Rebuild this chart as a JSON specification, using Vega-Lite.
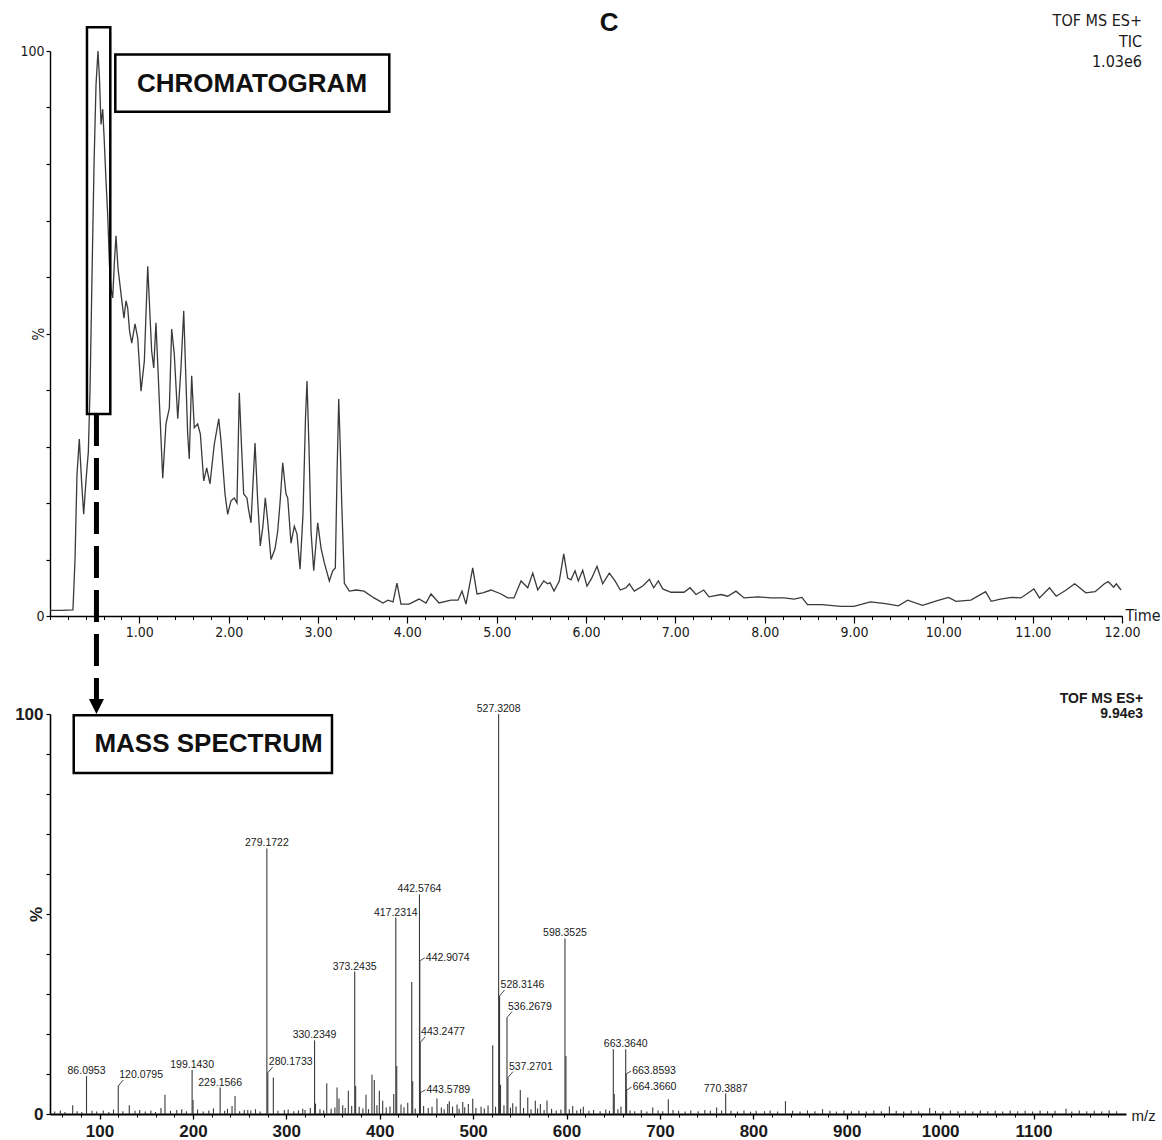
{
  "$schema": "https://vega.github.io/schema/vega-lite/v6.json",
  "background": "white",
  "padding": {"left": 14, "top": 9, "right": 4, "bottom": 2},
  "spacing": 98,
  "bounds": "flush",
  "config": {
    "view": {"stroke": null},
    "axis": {"grid": false, "domainColor": "#000", "tickColor": "#000", "labelColor": "#1a1a1a", "titleColor": "#1a1a1a", "labelFlush": false, "labelOverlap": false},
    "text": {"font": "Liberation Sans"}
  },
  "datasets": {
    "tic": [
      {"t": 0.000, "pct": 1.0}, {"t": 0.123, "pct": 1.0}, {"t": 0.257, "pct": 1.1}, {"t": 0.280, "pct": 10}, {"t": 0.302, "pct": 25},
      {"t": 0.328, "pct": 31.3}, {"t": 0.353, "pct": 24}, {"t": 0.377, "pct": 18}, {"t": 0.403, "pct": 24}, {"t": 0.429, "pct": 29},
      {"t": 0.448, "pct": 40}, {"t": 0.470, "pct": 60}, {"t": 0.493, "pct": 80}, {"t": 0.515, "pct": 94}, {"t": 0.537, "pct": 100},
      {"t": 0.554, "pct": 95}, {"t": 0.571, "pct": 87}, {"t": 0.590, "pct": 89.7}, {"t": 0.605, "pct": 85}, {"t": 0.627, "pct": 77},
      {"t": 0.646, "pct": 71}, {"t": 0.666, "pct": 62}, {"t": 0.683, "pct": 58}, {"t": 0.702, "pct": 56.3}, {"t": 0.722, "pct": 63},
      {"t": 0.739, "pct": 67.3}, {"t": 0.761, "pct": 61.6}, {"t": 0.795, "pct": 57}, {"t": 0.828, "pct": 52.7}, {"t": 0.851, "pct": 55.8},
      {"t": 0.870, "pct": 54.5}, {"t": 0.890, "pct": 50.5}, {"t": 0.915, "pct": 48.3}, {"t": 0.952, "pct": 51.7}, {"t": 0.982, "pct": 49.2},
      {"t": 1.019, "pct": 39.8}, {"t": 1.056, "pct": 45.1}, {"t": 1.078, "pct": 55}, {"t": 1.094, "pct": 61.9}, {"t": 1.114, "pct": 55},
      {"t": 1.138, "pct": 46.9}, {"t": 1.161, "pct": 43.9}, {"t": 1.186, "pct": 51.9}, {"t": 1.224, "pct": 38}, {"t": 1.262, "pct": 24.4},
      {"t": 1.298, "pct": 34}, {"t": 1.336, "pct": 36.8}, {"t": 1.362, "pct": 50.8}, {"t": 1.391, "pct": 46.4}, {"t": 1.430, "pct": 34.9},
      {"t": 1.466, "pct": 43.9}, {"t": 1.497, "pct": 54}, {"t": 1.517, "pct": 44}, {"t": 1.541, "pct": 32.2}, {"t": 1.559, "pct": 27.8},
      {"t": 1.586, "pct": 42.5}, {"t": 1.615, "pct": 33.3}, {"t": 1.653, "pct": 34}, {"t": 1.683, "pct": 32.2}, {"t": 1.721, "pct": 23.9},
      {"t": 1.754, "pct": 26.2}, {"t": 1.791, "pct": 23.4}, {"t": 1.839, "pct": 30.4}, {"t": 1.889, "pct": 34.9}, {"t": 1.914, "pct": 31},
      {"t": 1.959, "pct": 21.6}, {"t": 1.989, "pct": 18}, {"t": 2.026, "pct": 20.4}, {"t": 2.063, "pct": 20.9}, {"t": 2.093, "pct": 20},
      {"t": 2.119, "pct": 39.5}, {"t": 2.144, "pct": 30}, {"t": 2.168, "pct": 21.6}, {"t": 2.205, "pct": 20.9}, {"t": 2.220, "pct": 19.1},
      {"t": 2.250, "pct": 16.5}, {"t": 2.295, "pct": 30.6}, {"t": 2.325, "pct": 20.4}, {"t": 2.354, "pct": 12.4}, {"t": 2.384, "pct": 16},
      {"t": 2.410, "pct": 20.9}, {"t": 2.437, "pct": 16.8}, {"t": 2.474, "pct": 10}, {"t": 2.519, "pct": 11.9}, {"t": 2.549, "pct": 15},
      {"t": 2.575, "pct": 20}, {"t": 2.605, "pct": 27.1}, {"t": 2.642, "pct": 21.6}, {"t": 2.661, "pct": 20.9}, {"t": 2.698, "pct": 12.9},
      {"t": 2.735, "pct": 15.9}, {"t": 2.765, "pct": 14.5}, {"t": 2.799, "pct": 8.3}, {"t": 2.832, "pct": 18}, {"t": 2.860, "pct": 35},
      {"t": 2.877, "pct": 41.6}, {"t": 2.899, "pct": 30}, {"t": 2.922, "pct": 15}, {"t": 2.952, "pct": 8}, {"t": 2.997, "pct": 16.5},
      {"t": 3.034, "pct": 12}, {"t": 3.071, "pct": 9.4}, {"t": 3.127, "pct": 6.2}, {"t": 3.165, "pct": 8}, {"t": 3.194, "pct": 8.5},
      {"t": 3.213, "pct": 25}, {"t": 3.232, "pct": 38.4}, {"t": 3.249, "pct": 30}, {"t": 3.265, "pct": 20.4}, {"t": 3.295, "pct": 5.8},
      {"t": 3.350, "pct": 4.4}, {"t": 3.430, "pct": 4.6}, {"t": 3.515, "pct": 4.4}, {"t": 3.627, "pct": 3.2}, {"t": 3.728, "pct": 2.3},
      {"t": 3.784, "pct": 2.8}, {"t": 3.840, "pct": 2.5}, {"t": 3.884, "pct": 5.8}, {"t": 3.929, "pct": 2.1}, {"t": 4.019, "pct": 2.1},
      {"t": 4.131, "pct": 3.0}, {"t": 4.209, "pct": 2.3}, {"t": 4.265, "pct": 3.9}, {"t": 4.355, "pct": 2.3}, {"t": 4.489, "pct": 2.8},
      {"t": 4.567, "pct": 2.8}, {"t": 4.612, "pct": 4.4}, {"t": 4.657, "pct": 2.1}, {"t": 4.732, "pct": 8.5}, {"t": 4.780, "pct": 3.9},
      {"t": 4.844, "pct": 4.1}, {"t": 4.937, "pct": 4.6}, {"t": 5.049, "pct": 3.9}, {"t": 5.124, "pct": 3.2}, {"t": 5.194, "pct": 3.2},
      {"t": 5.273, "pct": 6.2}, {"t": 5.348, "pct": 5.0}, {"t": 5.404, "pct": 7.6}, {"t": 5.460, "pct": 4.6}, {"t": 5.527, "pct": 6.2},
      {"t": 5.571, "pct": 5.7}, {"t": 5.597, "pct": 5.9}, {"t": 5.642, "pct": 4.4}, {"t": 5.701, "pct": 6.2}, {"t": 5.751, "pct": 11.0},
      {"t": 5.795, "pct": 6.7}, {"t": 5.832, "pct": 6.4}, {"t": 5.877, "pct": 8.0}, {"t": 5.914, "pct": 6.2}, {"t": 5.963, "pct": 8.1},
      {"t": 6.011, "pct": 5.3}, {"t": 6.064, "pct": 6.7}, {"t": 6.123, "pct": 8.8}, {"t": 6.187, "pct": 5.7}, {"t": 6.261, "pct": 7.6},
      {"t": 6.325, "pct": 6.2}, {"t": 6.384, "pct": 4.6}, {"t": 6.448, "pct": 5.0}, {"t": 6.485, "pct": 5.7}, {"t": 6.541, "pct": 4.4},
      {"t": 6.635, "pct": 5.3}, {"t": 6.709, "pct": 6.5}, {"t": 6.758, "pct": 5.0}, {"t": 6.810, "pct": 6.2}, {"t": 6.859, "pct": 4.8},
      {"t": 6.952, "pct": 4.2}, {"t": 7.097, "pct": 4.2}, {"t": 7.164, "pct": 5.0}, {"t": 7.232, "pct": 3.8}, {"t": 7.318, "pct": 4.6},
      {"t": 7.377, "pct": 3.4}, {"t": 7.512, "pct": 3.8}, {"t": 7.586, "pct": 3.5}, {"t": 7.679, "pct": 4.4}, {"t": 7.769, "pct": 3.2},
      {"t": 7.922, "pct": 3.4}, {"t": 8.071, "pct": 3.2}, {"t": 8.217, "pct": 3.2}, {"t": 8.329, "pct": 3.0}, {"t": 8.417, "pct": 3.3},
      {"t": 8.479, "pct": 2.0}, {"t": 8.642, "pct": 2.0}, {"t": 8.853, "pct": 1.7}, {"t": 8.998, "pct": 1.7}, {"t": 9.185, "pct": 2.5},
      {"t": 9.352, "pct": 2.2}, {"t": 9.497, "pct": 1.8}, {"t": 9.600, "pct": 2.8}, {"t": 9.767, "pct": 1.9}, {"t": 9.933, "pct": 2.7},
      {"t": 10.058, "pct": 3.3}, {"t": 10.142, "pct": 2.6}, {"t": 10.308, "pct": 2.8}, {"t": 10.473, "pct": 4.3}, {"t": 10.536, "pct": 2.6},
      {"t": 10.639, "pct": 3.0}, {"t": 10.765, "pct": 3.3}, {"t": 10.869, "pct": 3.2}, {"t": 11.014, "pct": 4.8}, {"t": 11.076, "pct": 3.2},
      {"t": 11.189, "pct": 5.0}, {"t": 11.263, "pct": 3.5}, {"t": 11.367, "pct": 4.5}, {"t": 11.471, "pct": 5.7}, {"t": 11.595, "pct": 4.1},
      {"t": 11.699, "pct": 4.3}, {"t": 11.803, "pct": 5.7}, {"t": 11.845, "pct": 6.1}, {"t": 11.907, "pct": 5.1}, {"t": 11.936, "pct": 5.7},
      {"t": 11.989, "pct": 4.6}
    ],
    "spectrum": [
      {"mz": 52, "pct": 0.6, "place": "none"}, {"mz": 58, "pct": 0.9, "place": "none"}, {"mz": 63, "pct": 0.5, "place": "none"},
      {"mz": 71.3, "pct": 2.2, "place": "none"}, {"mz": 76, "pct": 0.7, "place": "none"}, {"mz": 81, "pct": 0.5, "place": "none"},
      {"mz": 86.0953, "pct": 9.5, "place": "top"}, {"mz": 92, "pct": 0.8, "place": "none"}, {"mz": 97, "pct": 0.6, "place": "none"},
      {"mz": 104, "pct": 0.9, "place": "none"}, {"mz": 110, "pct": 0.5, "place": "none"}, {"mz": 115, "pct": 1.1, "place": "none"},
      {"mz": 120.0795, "pct": 7.0, "place": "high"}, {"mz": 125, "pct": 0.7, "place": "none"}, {"mz": 131.9, "pct": 2.2, "place": "none"},
      {"mz": 138, "pct": 0.8, "place": "none"}, {"mz": 143, "pct": 1.0, "place": "none"}, {"mz": 149, "pct": 0.6, "place": "none"},
      {"mz": 155, "pct": 0.9, "place": "none"}, {"mz": 160, "pct": 0.5, "place": "none"}, {"mz": 165.8, "pct": 1.5, "place": "none"},
      {"mz": 170.1, "pct": 4.8, "place": "none"}, {"mz": 176, "pct": 0.8, "place": "none"}, {"mz": 182.7, "pct": 1.0, "place": "none"},
      {"mz": 188, "pct": 1.2, "place": "none"}, {"mz": 193, "pct": 0.7, "place": "none"}, {"mz": 199.143, "pct": 11.0, "place": "top"},
      {"mz": 200.15, "pct": 3.5, "place": "none"}, {"mz": 205, "pct": 1.1, "place": "none"}, {"mz": 211, "pct": 0.6, "place": "none"},
      {"mz": 217, "pct": 0.9, "place": "none"}, {"mz": 222, "pct": 1.4, "place": "none"}, {"mz": 229.1566, "pct": 6.6, "place": "top"},
      {"mz": 234, "pct": 0.8, "place": "none"}, {"mz": 237, "pct": 1.3, "place": "none"}, {"mz": 241.9, "pct": 2.0, "place": "none"},
      {"mz": 245.1, "pct": 4.5, "place": "none"}, {"mz": 250, "pct": 0.7, "place": "none"}, {"mz": 255, "pct": 1.0, "place": "none"},
      {"mz": 258.7, "pct": 1.0, "place": "none"}, {"mz": 262, "pct": 0.9, "place": "none"}, {"mz": 267, "pct": 1.2, "place": "none"},
      {"mz": 272, "pct": 0.6, "place": "none"}, {"mz": 279.1722, "pct": 66.4, "place": "top"}, {"mz": 280.1733, "pct": 10.3, "place": "high"},
      {"mz": 286.1, "pct": 9.1, "place": "none"}, {"mz": 291, "pct": 0.8, "place": "none"}, {"mz": 297.9, "pct": 1.0, "place": "none"},
      {"mz": 302, "pct": 1.1, "place": "none"}, {"mz": 308, "pct": 0.7, "place": "none"}, {"mz": 313, "pct": 0.9, "place": "none"},
      {"mz": 317.6, "pct": 1.3, "place": "none"}, {"mz": 320, "pct": 1.0, "place": "none"}, {"mz": 325.7, "pct": 1.5, "place": "none"},
      {"mz": 330.2349, "pct": 18.4, "place": "top"}, {"mz": 331.24, "pct": 2.6, "place": "none"}, {"mz": 336, "pct": 1.2, "place": "none"},
      {"mz": 340, "pct": 0.9, "place": "none"}, {"mz": 343.3, "pct": 7.7, "place": "none"}, {"mz": 348, "pct": 1.3, "place": "none"},
      {"mz": 352, "pct": 1.6, "place": "none"}, {"mz": 354.3, "pct": 6.6, "place": "none"}, {"mz": 356.4, "pct": 3.9, "place": "none"},
      {"mz": 360.4, "pct": 2.2, "place": "none"}, {"mz": 363, "pct": 1.5, "place": "none"}, {"mz": 366.4, "pct": 5.8, "place": "none"},
      {"mz": 370, "pct": 2.0, "place": "none"}, {"mz": 373.2435, "pct": 35.6, "place": "top"}, {"mz": 374.25, "pct": 7.0, "place": "none"},
      {"mz": 378, "pct": 1.8, "place": "none"}, {"mz": 382, "pct": 1.4, "place": "none"}, {"mz": 385.3, "pct": 4.8, "place": "none"},
      {"mz": 388, "pct": 1.2, "place": "none"}, {"mz": 391.7, "pct": 9.8, "place": "none"}, {"mz": 394.2, "pct": 8.5, "place": "none"},
      {"mz": 397, "pct": 2.2, "place": "none"}, {"mz": 399.6, "pct": 5.8, "place": "none"}, {"mz": 403.2, "pct": 3.3, "place": "none"},
      {"mz": 407, "pct": 1.6, "place": "none"}, {"mz": 411, "pct": 1.9, "place": "none"}, {"mz": 415.0, "pct": 5.0, "place": "none"},
      {"mz": 417.2314, "pct": 49.1, "place": "top"}, {"mz": 418.23, "pct": 12.0, "place": "none"}, {"mz": 422.8, "pct": 2.4, "place": "none"},
      {"mz": 426, "pct": 1.7, "place": "none"}, {"mz": 430.0, "pct": 2.8, "place": "none"}, {"mz": 434.3, "pct": 33.0, "place": "none"},
      {"mz": 435.3, "pct": 8.2, "place": "none"}, {"mz": 438, "pct": 1.4, "place": "none"}, {"mz": 442.5764, "pct": 54.9, "place": "top"},
      {"mz": 442.9074, "pct": 38.3, "place": "level"}, {"mz": 443.2477, "pct": 17.8, "place": "high"}, {"mz": 443.5789, "pct": 5.3, "place": "level"},
      {"mz": 447, "pct": 2.0, "place": "none"}, {"mz": 452, "pct": 1.5, "place": "none"}, {"mz": 456, "pct": 1.8, "place": "none"},
      {"mz": 461.3, "pct": 3.9, "place": "none"}, {"mz": 466, "pct": 1.6, "place": "none"}, {"mz": 469, "pct": 1.2, "place": "none"},
      {"mz": 472.8, "pct": 2.5, "place": "none"}, {"mz": 474.5, "pct": 3.2, "place": "none"}, {"mz": 478, "pct": 1.9, "place": "none"},
      {"mz": 482.8, "pct": 2.4, "place": "none"}, {"mz": 485, "pct": 1.3, "place": "none"}, {"mz": 488.9, "pct": 3.0, "place": "none"},
      {"mz": 491, "pct": 1.7, "place": "none"}, {"mz": 494.9, "pct": 2.5, "place": "none"}, {"mz": 499.6, "pct": 3.8, "place": "none"},
      {"mz": 503, "pct": 1.5, "place": "none"}, {"mz": 508.5, "pct": 1.8, "place": "none"}, {"mz": 512, "pct": 1.4, "place": "none"},
      {"mz": 516, "pct": 2.1, "place": "none"}, {"mz": 521.0, "pct": 17.2, "place": "none"}, {"mz": 524, "pct": 1.8, "place": "none"},
      {"mz": 527.3208, "pct": 100, "place": "top"}, {"mz": 528.3146, "pct": 29.5, "place": "high"}, {"mz": 529.32, "pct": 7.3, "place": "none"},
      {"mz": 533, "pct": 2.2, "place": "none"}, {"mz": 536.2679, "pct": 24.1, "place": "high"}, {"mz": 537.2701, "pct": 9.1, "place": "high"},
      {"mz": 540, "pct": 1.6, "place": "none"}, {"mz": 542.4, "pct": 2.7, "place": "none"}, {"mz": 546, "pct": 1.9, "place": "none"},
      {"mz": 550.5, "pct": 6.0, "place": "none"}, {"mz": 554, "pct": 1.5, "place": "none"}, {"mz": 558.5, "pct": 4.1, "place": "none"},
      {"mz": 562, "pct": 1.2, "place": "none"}, {"mz": 566.6, "pct": 3.3, "place": "none"}, {"mz": 569, "pct": 1.4, "place": "none"},
      {"mz": 572.0, "pct": 2.5, "place": "none"}, {"mz": 576, "pct": 1.0, "place": "none"}, {"mz": 579.1, "pct": 3.4, "place": "none"},
      {"mz": 584, "pct": 1.3, "place": "none"}, {"mz": 589, "pct": 0.9, "place": "none"}, {"mz": 594, "pct": 1.1, "place": "none"},
      {"mz": 598.3525, "pct": 43.9, "place": "top"}, {"mz": 599.36, "pct": 14.5, "place": "none"}, {"mz": 603, "pct": 1.2, "place": "none"},
      {"mz": 606.6, "pct": 2.0, "place": "none"}, {"mz": 611, "pct": 0.9, "place": "none"}, {"mz": 615, "pct": 1.3, "place": "none"},
      {"mz": 618.0, "pct": 1.8, "place": "none"}, {"mz": 624, "pct": 0.8, "place": "none"}, {"mz": 629, "pct": 1.0, "place": "none"},
      {"mz": 636, "pct": 0.7, "place": "none"}, {"mz": 642, "pct": 1.1, "place": "none"}, {"mz": 646, "pct": 0.8, "place": "none"},
      {"mz": 650.1, "pct": 16.2, "place": "none"}, {"mz": 651.1, "pct": 5.0, "place": "none"}, {"mz": 655, "pct": 1.2, "place": "none"},
      {"mz": 658.3, "pct": 1.9, "place": "none"}, {"mz": 663.364, "pct": 16.2, "place": "top"}, {"mz": 663.8593, "pct": 10.0, "place": "level"},
      {"mz": 664.366, "pct": 6.0, "place": "level"}, {"mz": 668, "pct": 0.9, "place": "none"}, {"mz": 673, "pct": 0.7, "place": "none"},
      {"mz": 680, "pct": 1.0, "place": "none"}, {"mz": 686, "pct": 0.6, "place": "none"}, {"mz": 692.3, "pct": 1.6, "place": "none"},
      {"mz": 698, "pct": 0.9, "place": "none"}, {"mz": 703, "pct": 0.7, "place": "none"}, {"mz": 709.0, "pct": 3.7, "place": "none"},
      {"mz": 714, "pct": 1.0, "place": "none"}, {"mz": 720, "pct": 0.8, "place": "none"}, {"mz": 727, "pct": 0.6, "place": "none"},
      {"mz": 733, "pct": 0.9, "place": "none"}, {"mz": 741, "pct": 0.7, "place": "none"}, {"mz": 748, "pct": 1.0, "place": "none"},
      {"mz": 754, "pct": 0.8, "place": "none"}, {"mz": 760.7, "pct": 1.6, "place": "none"}, {"mz": 766, "pct": 0.9, "place": "none"},
      {"mz": 770.3887, "pct": 5.1, "place": "top"}, {"mz": 776, "pct": 0.8, "place": "none"}, {"mz": 783, "pct": 0.6, "place": "none"},
      {"mz": 790, "pct": 0.9, "place": "none"}, {"mz": 797, "pct": 0.6, "place": "none"}, {"mz": 803, "pct": 0.8, "place": "none"},
      {"mz": 812, "pct": 0.7, "place": "none"}, {"mz": 818, "pct": 0.9, "place": "none"}, {"mz": 826, "pct": 0.6, "place": "none"},
      {"mz": 834.4, "pct": 3.2, "place": "none"}, {"mz": 842, "pct": 0.8, "place": "none"}, {"mz": 850, "pct": 0.6, "place": "none"},
      {"mz": 858, "pct": 0.9, "place": "none"}, {"mz": 866, "pct": 0.7, "place": "none"}, {"mz": 874.1, "pct": 1.2, "place": "none"},
      {"mz": 882, "pct": 0.8, "place": "none"}, {"mz": 889, "pct": 0.6, "place": "none"}, {"mz": 897, "pct": 0.9, "place": "none"},
      {"mz": 905, "pct": 0.7, "place": "none"}, {"mz": 913, "pct": 0.8, "place": "none"}, {"mz": 921, "pct": 0.6, "place": "none"},
      {"mz": 929, "pct": 0.9, "place": "none"}, {"mz": 937, "pct": 0.7, "place": "none"}, {"mz": 945.7, "pct": 1.9, "place": "none"},
      {"mz": 953, "pct": 0.8, "place": "none"}, {"mz": 961, "pct": 0.6, "place": "none"}, {"mz": 969, "pct": 0.9, "place": "none"},
      {"mz": 977, "pct": 0.7, "place": "none"}, {"mz": 988.8, "pct": 1.5, "place": "none"}, {"mz": 995, "pct": 0.8, "place": "none"},
      {"mz": 1003, "pct": 0.6, "place": "none"}, {"mz": 1011, "pct": 0.9, "place": "none"}, {"mz": 1019, "pct": 0.7, "place": "none"},
      {"mz": 1027, "pct": 0.8, "place": "none"}, {"mz": 1035, "pct": 0.6, "place": "none"}, {"mz": 1043, "pct": 0.9, "place": "none"},
      {"mz": 1051, "pct": 0.7, "place": "none"}, {"mz": 1059, "pct": 0.8, "place": "none"}, {"mz": 1067, "pct": 0.6, "place": "none"},
      {"mz": 1075, "pct": 0.9, "place": "none"}, {"mz": 1083, "pct": 0.7, "place": "none"}, {"mz": 1091, "pct": 0.8, "place": "none"},
      {"mz": 1099, "pct": 0.6, "place": "none"}, {"mz": 1107, "pct": 0.9, "place": "none"}, {"mz": 1115, "pct": 0.7, "place": "none"},
      {"mz": 1123, "pct": 0.8, "place": "none"}, {"mz": 1134.8, "pct": 1.3, "place": "none"}, {"mz": 1141, "pct": 0.6, "place": "none"},
      {"mz": 1149, "pct": 0.9, "place": "none"}, {"mz": 1157, "pct": 0.7, "place": "none"}, {"mz": 1165, "pct": 0.8, "place": "none"},
      {"mz": 1173, "pct": 0.6, "place": "none"}, {"mz": 1181, "pct": 0.9, "place": "none"}, {"mz": 1189, "pct": 0.7, "place": "none"}
    ]
  },
  "vconcat": [
    {
      "width": 1072,
      "height": 565,
      "resolve": {"axis": {"x": "independent", "y": "independent"}},
      "layer": [
        {
          "data": {"name": "tic"},
          "mark": {"type": "line", "color": "#3a3a3a", "strokeWidth": 1.3},
          "encoding": {
            "x": {
              "field": "t", "type": "quantitative",
              "scale": {"domain": [0, 12], "nice": false, "zero": false},
              "axis": {
                "orient": "bottom", "values": [1, 2, 3, 4, 5, 6, 7, 8, 9, 10, 11, 12], "format": ".2f",
                "tickSize": 7, "tickWidth": 1.2, "domainWidth": 1.4, "labelPadding": 2,
                "labelFont": "Liberation Sans Narrow, DejaVu Sans Condensed, sans-serif", "labelFontSize": 14,
                "title": "Time", "titleX": 1075, "titleY": -1, "titleAlign": "left", "titleBaseline": "middle",
                "titleFont": "Liberation Sans Narrow, DejaVu Sans Condensed, sans-serif", "titleFontSize": 16, "titleFontWeight": "normal"
              }
            },
            "y": {
              "field": "pct", "type": "quantitative",
              "scale": {"domain": [0, 100], "nice": false},
              "axis": {
                "orient": "left",
                "values": [0, 10, 20, 30, 40, 50, 60, 70, 80, 90, 100],
                "labelExpr": "datum.value == 0 || datum.value == 100 ? datum.label : ''",
                "tickSize": 4, "tickWidth": 1.2, "domainWidth": 1.4, "labelPadding": 2,
                "labelFont": "Liberation Sans Narrow, DejaVu Sans Condensed, sans-serif", "labelFontSize": 14,
                "title": "%", "titleX": -11.5, "titleY": 282.5, "titleAngle": -90, "titleAlign": "center", "titleBaseline": "middle",
                "titleFont": "Liberation Sans Narrow, DejaVu Sans Condensed, sans-serif", "titleFontSize": 15, "titleFontWeight": "normal"
              }
            }
          }
        },
        {
          "data": {"values": [{}]},
          "mark": {"type": "rect", "fill": "white", "fillOpacity": 0, "stroke": "black", "strokeWidth": 2.5},
          "encoding": {
            "x": {
              "datum": 0.414, "type": "quantitative",
              "axis": {
                "orient": "bottom", "labels": false, "domain": false, "tickSize": 3.5, "tickWidth": 1, "title": null,
                "values": [0, 0.2, 0.4, 0.6, 0.8, 1, 1.2, 1.4, 1.6, 1.8, 2, 2.2, 2.4, 2.6, 2.8, 3, 3.2, 3.4, 3.6, 3.8, 4, 4.2, 4.4, 4.6, 4.8, 5, 5.2, 5.4, 5.6, 5.8, 6, 6.2, 6.4, 6.6, 6.8, 7, 7.2, 7.4, 7.6, 7.8, 8, 8.2, 8.4, 8.6, 8.8, 9, 9.2, 9.4, 9.6, 9.8, 10, 10.2, 10.4, 10.6, 10.8, 11, 11.2, 11.4, 11.6, 11.8, 12]
              }
            },
            "x2": {"datum": 0.675},
            "y": {"datum": 104.2, "type": "quantitative", "axis": null},
            "y2": {"datum": 35.75}
          }
        },
        {
          "data": {"values": [{}]},
          "mark": {"type": "rule", "color": "black", "strokeWidth": 5, "strokeDash": [32, 12]},
          "encoding": {
            "x": {"datum": 0.52, "type": "quantitative", "axis": null},
            "y": {"datum": 35.75, "type": "quantitative", "axis": null},
            "y2": {"datum": -14.7}
          }
        },
        {
          "data": {"values": [{}]},
          "mark": {"type": "point", "shape": "M-1,-1L1,-1L0,1Z", "size": 225, "filled": true, "color": "black", "opacity": 1},
          "encoding": {
            "x": {"datum": 0.52, "type": "quantitative", "axis": null},
            "y": {"datum": -16.0, "type": "quantitative", "axis": null}
          }
        },
        {
          "data": {"values": [{}]},
          "mark": {"type": "rect", "fill": "white", "stroke": "black", "strokeWidth": 2.5},
          "encoding": {
            "x": {"datum": 0.731, "type": "quantitative", "axis": null},
            "x2": {"datum": 3.798},
            "y": {"datum": 99.4, "type": "quantitative", "axis": null},
            "y2": {"datum": 89.26}
          }
        },
        {
          "data": {"values": [{}]},
          "mark": {"type": "text", "text": "CHROMATOGRAM", "fontSize": 26, "fontWeight": "bold", "color": "#111", "align": "center", "baseline": "middle"},
          "encoding": {
            "x": {"datum": 2.261, "type": "quantitative", "axis": null},
            "y": {"datum": 94.2, "type": "quantitative", "axis": null}
          }
        },
        {
          "data": {"values": [{}]},
          "mark": {"type": "text", "text": "C", "fontSize": 26, "fontWeight": "bold", "color": "#111", "align": "center", "baseline": "middle"},
          "encoding": {
            "x": {"datum": 6.258, "type": "quantitative", "axis": null},
            "y": {"datum": 104.96, "type": "quantitative", "axis": null}
          }
        },
        {
          "data": {"values": [{}]},
          "mark": {"type": "text", "text": ["TOF MS ES+", "TIC", "1.03e6"], "font": "Liberation Sans Narrow, DejaVu Sans Condensed, sans-serif", "fontSize": 16, "lineHeight": 20.5, "color": "#1a1a1a", "align": "right", "baseline": "middle"},
          "encoding": {
            "x": {"datum": 12.224, "type": "quantitative", "axis": null},
            "y": {"datum": 105.3, "type": "quantitative", "axis": null}
          }
        }
      ]
    },
    {
      "width": 1076,
      "height": 400,
      "resolve": {"axis": {"x": "independent", "y": "independent"}},
      "layer": [
        {
          "data": {"name": "spectrum"},
          "mark": {"type": "rule", "color": "#3a3a3a", "strokeWidth": 1.1},
          "encoding": {
            "x": {
              "field": "mz", "type": "quantitative",
              "scale": {"domain": [47, 1199], "nice": false, "zero": false},
              "axis": {
                "orient": "bottom", "values": [100, 200, 300, 400, 500, 600, 700, 800, 900, 1000, 1100], "format": "d",
                "tickSize": 5, "tickWidth": 1.3, "domainWidth": 2.2, "labelPadding": 4,
                "labelFont": "Liberation Sans", "labelFontSize": 17, "labelFontWeight": "bold",
                "title": "m/z", "titleX": 1081, "titleY": 1, "titleAlign": "left", "titleBaseline": "middle",
                "titleFont": "Liberation Sans", "titleFontSize": 15, "titleFontWeight": "normal"
              }
            },
            "y": {
              "field": "pct", "type": "quantitative",
              "scale": {"domain": [0, 100], "nice": false},
              "axis": {
                "orient": "left",
                "values": [0, 10, 20, 30, 40, 50, 60, 70, 80, 90, 100],
                "labelExpr": "datum.value == 0 || datum.value == 100 ? datum.label : ''",
                "tickSize": 4, "tickWidth": 1.2, "domainWidth": 1.6, "labelPadding": 3,
                "labelFont": "Liberation Sans", "labelFontSize": 17, "labelFontWeight": "bold",
                "title": "%", "titleX": -14, "titleY": 200, "titleAngle": -90, "titleAlign": "center", "titleBaseline": "middle",
                "titleFont": "Liberation Sans", "titleFontSize": 17, "titleFontWeight": "bold"
              }
            },
            "y2": {"datum": 0}
          }
        },
        {
          "data": {"name": "spectrum"},
          "transform": [{"filter": "datum.place == 'top'"}],
          "mark": {"type": "text", "fontSize": 10.5, "color": "#1a1a1a", "align": "center", "baseline": "alphabetic", "dy": -2},
          "encoding": {
            "x": {"field": "mz", "type": "quantitative", "axis": null},
            "y": {"field": "pct", "type": "quantitative", "axis": null},
            "text": {"field": "mz", "type": "quantitative", "format": ".4f"}
          }
        },
        {
          "data": {"name": "spectrum"},
          "transform": [{"filter": "datum.place == 'high'"}],
          "mark": {"type": "text", "fontSize": 10.5, "color": "#1a1a1a", "align": "left", "baseline": "middle", "dx": 1, "dy": -11},
          "encoding": {
            "x": {"field": "mz", "type": "quantitative", "axis": null},
            "y": {"field": "pct", "type": "quantitative", "axis": null},
            "text": {"field": "mz", "type": "quantitative", "format": ".4f"}
          }
        },
        {
          "data": {"name": "spectrum"},
          "transform": [{"filter": "datum.place == 'high'"}],
          "mark": {"type": "rule", "color": "#333", "strokeWidth": 0.9, "x2Offset": 5, "y2Offset": -6},
          "encoding": {
            "x": {"field": "mz", "type": "quantitative", "axis": null},
            "x2": {"field": "mz"},
            "y": {"field": "pct", "type": "quantitative", "axis": null},
            "y2": {"field": "pct"}
          }
        },
        {
          "data": {"name": "spectrum"},
          "transform": [{"filter": "datum.place == 'level'"}],
          "mark": {"type": "text", "fontSize": 10.5, "color": "#1a1a1a", "align": "left", "baseline": "middle", "dx": 6, "dy": -3},
          "encoding": {
            "x": {"field": "mz", "type": "quantitative", "axis": null},
            "y": {"field": "pct", "type": "quantitative", "axis": null},
            "text": {"field": "mz", "type": "quantitative", "format": ".4f"}
          }
        },
        {
          "data": {"name": "spectrum"},
          "transform": [{"filter": "datum.place == 'level'"}],
          "mark": {"type": "rule", "color": "#333", "strokeWidth": 0.9, "x2Offset": 5, "y2Offset": -3},
          "encoding": {
            "x": {"field": "mz", "type": "quantitative", "axis": null},
            "x2": {"field": "mz"},
            "y": {"field": "pct", "type": "quantitative", "axis": null},
            "y2": {"field": "pct"}
          }
        },
        {
          "data": {"values": [{}]},
          "mark": {"type": "rect", "fill": "white", "stroke": "black", "strokeWidth": 2.5},
          "encoding": {
            "x": {
              "datum": 72.4, "type": "quantitative",
              "axis": {
                "orient": "bottom", "labels": false, "domain": false, "tickSize": 3, "tickWidth": 1, "title": null,
                "values": [60, 80, 100, 120, 140, 160, 180, 200, 220, 240, 260, 280, 300, 320, 340, 360, 380, 400, 420, 440, 460, 480, 500, 520, 540, 560, 580, 600, 620, 640, 660, 680, 700, 720, 740, 760, 780, 800, 820, 840, 860, 880, 900, 920, 940, 960, 980, 1000, 1020, 1040, 1060, 1080, 1100, 1120, 1140, 1160, 1180]
              }
            },
            "x2": {"datum": 348.9},
            "y": {"datum": 99.7, "type": "quantitative", "axis": null},
            "y2": {"datum": 85.25}
          }
        },
        {
          "data": {"values": [{}]},
          "mark": {"type": "text", "text": "MASS SPECTRUM", "fontSize": 26, "fontWeight": "bold", "color": "#111", "align": "center", "baseline": "middle"},
          "encoding": {
            "x": {"datum": 216.7, "type": "quantitative", "axis": null},
            "y": {"datum": 92.5, "type": "quantitative", "axis": null}
          }
        },
        {
          "data": {"values": [{}]},
          "mark": {"type": "text", "text": ["TOF MS ES+", "9.94e3"], "fontSize": 14, "fontWeight": "bold", "lineHeight": 15, "color": "#1a1a1a", "align": "right", "baseline": "middle"},
          "encoding": {
            "x": {"datum": 1217.3, "type": "quantitative", "axis": null},
            "y": {"datum": 103.75, "type": "quantitative", "axis": null}
          }
        }
      ]
    }
  ]
}
